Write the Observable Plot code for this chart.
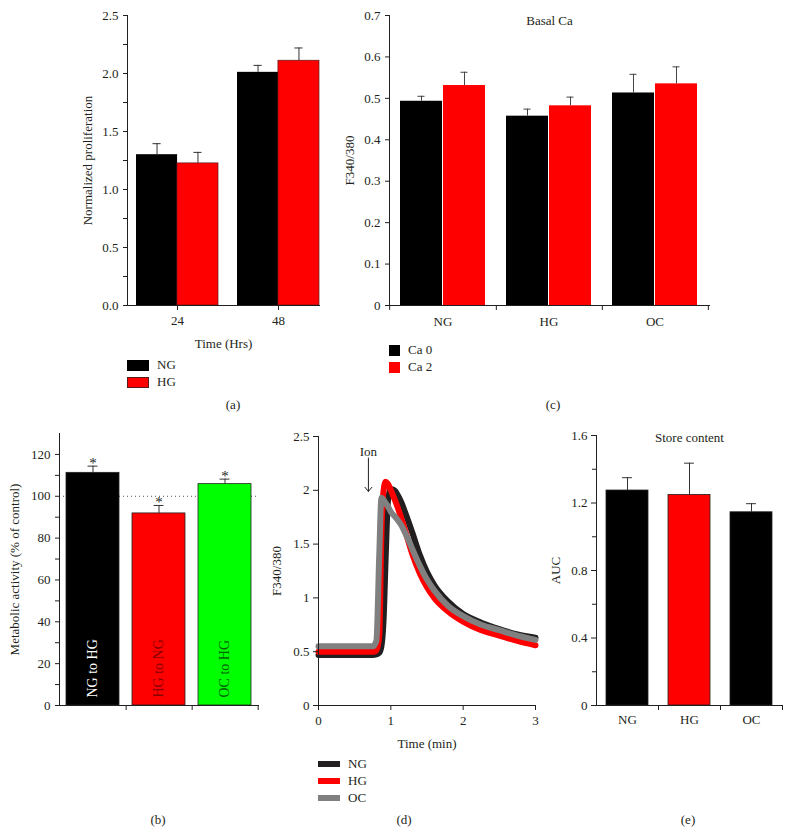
<!DOCTYPE html>
<html><head><meta charset="utf-8">
<script src="https://cdn.jsdelivr.net/npm/d3@7"></script>
<script src="https://cdn.jsdelivr.net/npm/@observablehq/plot@0.6"></script>
<style>
body{margin:0;background:#fff;}
#root{position:relative;width:790px;height:835px;font-family:"Liberation Serif","Times New Roman",serif;color:#231f20;font-size:13px;overflow:hidden;}
.lbl{position:absolute;transform:translate(-50%,-50%);white-space:nowrap;}
.txt{position:absolute;transform:translateY(-50%);white-space:nowrap;}
.sw{position:absolute;box-sizing:border-box;}
</style></head><body><div id="root"></div>
<script>
// ---------- data ----------
// (a) proliferation
const timeGroups = ["24", "48"];
const prolifNG = [1.30, 2.01];
const prolifNGErr = [0.095, 0.06];
const prolifHG = [1.225, 2.11];
const prolifHGErr = [0.095, 0.11];
const prolifTicks = [0, 0.5, 1, 1.5, 2, 2.5];
const prolifMinor = [0.25, 0.75, 1.25, 1.75, 2.25];

// (b) metabolic activity
const metabCats = ["NG to HG", "HG to NG", "OC to HG"];
const metabValues = [111.2, 91.8, 105.8];
const metabErr = [3.2, 3.8, 2.4];
const metabColors = ["#000000", "#ff0000", "#00ff00"];
const metabTextColors = ["#ffffff", "#8b0000", "#006400"];
const controlLevel = [100];
const metabTicks = [0, 20, 40, 60, 80, 100, 120];
const metabMinor = [10, 30, 50, 70, 90, 110];

// (c) basal Ca
const basalCats = ["NG", "HG", "OC"];
const basalCa0 = [0.493, 0.457, 0.513];
const basalCa0Err = [0.012, 0.017, 0.045];
const basalCa2 = [0.531, 0.482, 0.535];
const basalCa2Err = [0.032, 0.021, 0.041];
const basalTicks = [0, 0.1, 0.2, 0.3, 0.4, 0.5, 0.6, 0.7];

// (d) Ca traces
const traceTime = [0, 0.5, 0.75, 0.8, 0.84, 0.87, 0.9, 0.93, 0.96, 1.0, 1.05, 1.1, 1.15, 1.2, 1.3, 1.4, 1.5, 1.6, 1.8, 2.0, 2.25, 2.5, 2.75, 3.0];
const traceNG = [0.47, 0.47, 0.47, 0.475, 0.49, 0.55, 0.80, 1.40, 1.90, 2.01, 2.00, 1.95, 1.88, 1.79, 1.60, 1.40, 1.24, 1.12, 0.96, 0.85, 0.77, 0.71, 0.66, 0.63];
const traceHG = [0.50, 0.50, 0.50, 0.51, 0.65, 1.60, 2.00, 2.08, 2.06, 2.00, 1.92, 1.83, 1.73, 1.62, 1.40, 1.23, 1.10, 1.00, 0.87, 0.78, 0.70, 0.65, 0.60, 0.56];
const traceOC = [0.55, 0.55, 0.55, 0.60, 1.40, 1.93, 1.91, 1.88, 1.85, 1.80, 1.76, 1.72, 1.67, 1.60, 1.45, 1.30, 1.17, 1.07, 0.92, 0.83, 0.75, 0.70, 0.65, 0.61];
const traceTimeTicks = [0, 1, 2, 3];
const traceRatioTicks = [0, 0.5, 1, 1.5, 2, 2.5];
const ionMark = [{time: 0.69, label: 2.36, from: 2.30, to: 1.99}];

// (e) store content
const storeCats = ["NG", "HG", "OC"];
const storeAUC = [1.274, 1.248, 1.145];
const storeErr = [0.076, 0.188, 0.051];
const storeColors = ["#000000", "#ff0000", "#000000"];
const storeTicks = [0, 0.4, 0.8, 1.2, 1.6];
const storeMinor = [0.2, 0.6, 1.0, 1.4];

// ---------- helpers ----------
const FONT = '"Liberation Serif", "Times New Roman", serif';
const INK = "#231f20";
const root = document.getElementById("root");
function place(el, left, top) { el.style.position = "absolute"; el.style.left = left + "px"; el.style.top = top + "px"; root.appendChild(el); }
function style() { return {fontFamily: FONT, fontSize: "13px", color: INK, background: "none", overflow: "visible"}; }
function label(text, x, y, cls = "lbl") { const d = document.createElement("div"); d.className = cls; d.textContent = text; d.style.left = x + "px"; d.style.top = y + "px"; root.appendChild(d); }
function swatch(x, cy, w, h, color, border) { const d = document.createElement("div"); d.className = "sw"; d.style.left = x + "px"; d.style.top = (cy - h / 2) + "px"; d.style.width = w + "px"; d.style.height = h + "px"; d.style.background = color; if (border) d.style.border = "1px solid " + border; root.appendChild(d); }
const fmtPlain = d => String(d);

// ---------- (a) ----------
{
  const W = 340, H = 350, mL = 127, mR = 21, mT = 15, mB = 45, pi = 0.19, po = 0.045;
  const step = (W - mL - mR) / (timeGroups.length - pi + 2 * po), bw = step * (1 - pi), half = bw / 2, cap = 4;
  const ng = timeGroups.map((g, i) => ({g, v: prolifNG[i], e: prolifNGErr[i]}));
  const hg = timeGroups.map((g, i) => ({g, v: prolifHG[i], e: prolifHGErr[i]}));
  const svg = Plot.plot({
    width: W, height: H, marginLeft: mL, marginRight: mR, marginTop: mT, marginBottom: mB, style: style(),
    x: {type: "band", domain: timeGroups, paddingInner: pi, paddingOuter: po, align: 1},
    y: {domain: [0, 2.5]},
    marks: [
      Plot.barY(ng, {x: "g", y: "v", fill: "#000", insetRight: half}),
      Plot.barY(hg, {x: "g", y: "v", fill: "#ff0000", stroke: "#5a1a1a", strokeWidth: 0.7, insetLeft: half}),
      Plot.ruleX(ng, {x: "g", y1: "v", y2: d => d.v + d.e, dx: -half / 2, stroke: "#333"}),
      Plot.ruleX(hg, {x: "g", y1: "v", y2: d => d.v + d.e, dx: half / 2, stroke: "#333"}),
      Plot.tickY(ng, {x: "g", y: d => d.v + d.e, insetLeft: bw * 0.25 - cap, insetRight: bw * 0.75 - cap, stroke: "#333"}),
      Plot.tickY(hg, {x: "g", y: d => d.v + d.e, insetLeft: bw * 0.75 - cap, insetRight: bw * 0.25 - cap, stroke: "#333"}),
      Plot.frame({anchor: "left", stroke: INK}),
      Plot.frame({anchor: "bottom", stroke: INK}),
      Plot.axisY(prolifTicks, {tickSize: 4, tickFormat: d3.format(".1f"), color: INK, label: "Normalized proliferation", labelAnchor: "center", labelOffset: 45, labelArrow: "none"}),
      Plot.axisY(prolifMinor, {tickSize: 4, tickFormat: () => "", color: INK, label: null}),
      Plot.axisX({tickSize: 5, tickPadding: 5, color: INK, label: "Time (Hrs)", labelAnchor: "center", labelOffset: 42, labelArrow: "none"})
    ]
  });
  place(svg, 0, 0);
  swatch(127, 365, 22, 11, "#000");
  label("NG", 157, 365, "txt");
  swatch(127, 382, 22, 11, "#ff0000", "#5a1a1a");
  label("HG", 157, 382, "txt");
  label("(a)", 233, 405);
}

// ---------- (c) ----------
{
  const W = 450, H = 350, mL = 49, mR = 81, mT = 15, mB = 45, pi = 0.194, po = 0.097;
  const step = (W - mL - mR) / (basalCats.length - pi + 2 * po), bw = step * (1 - pi), half = bw / 2, cap = 4;
  const c0 = basalCats.map((g, i) => ({g, v: basalCa0[i], e: basalCa0Err[i]}));
  const c2 = basalCats.map((g, i) => ({g, v: basalCa2[i], e: basalCa2Err[i]}));
  const svg = Plot.plot({
    width: W, height: H, marginLeft: mL, marginRight: mR, marginTop: mT, marginBottom: mB, style: style(),
    x: {type: "band", domain: basalCats, paddingInner: pi, paddingOuter: po},
    y: {domain: [0, 0.7]},
    marks: [
      Plot.barY(c0, {x: "g", y: "v", fill: "#000", insetRight: half}),
      Plot.barY(c2, {x: "g", y: "v", fill: "#ff0000", insetLeft: half}),
      Plot.ruleX(c0, {x: "g", y1: "v", y2: d => d.v + d.e, dx: -half / 2, stroke: "#444"}),
      Plot.ruleX(c2, {x: "g", y1: "v", y2: d => d.v + d.e, dx: half / 2, stroke: "#444"}),
      Plot.tickY(c0, {x: "g", y: d => d.v + d.e, insetLeft: bw * 0.25 - cap, insetRight: bw * 0.75 - cap, stroke: "#444"}),
      Plot.tickY(c2, {x: "g", y: d => d.v + d.e, insetLeft: bw * 0.75 - cap, insetRight: bw * 0.25 - cap, stroke: "#444"}),
      Plot.frame({anchor: "left", stroke: INK}),
      Plot.frame({anchor: "bottom", stroke: INK}),
      Plot.ruleX(basalCats, {x: d => d, y1: 0, y2: 0, dx: step / 2, insetBottom: -5, stroke: INK}),
      Plot.ruleX(basalCats.slice(0, 1), {x: d => d, y1: 0, y2: 0, dx: -step / 2, insetBottom: -5, stroke: INK}),
      Plot.axisY(basalTicks, {tickSize: 4, tickFormat: fmtPlain, color: INK, label: "F340/380", labelAnchor: "center", labelOffset: 45, labelArrow: "none"}),
      Plot.axisX({tickSize: 0, tickPadding: 11, color: INK, label: null}),
      Plot.text(["Basal Ca"], {frameAnchor: "top", fill: INK})
    ]
  });
  place(svg, 340, 0);
  swatch(389, 350, 11, 11, "#000");
  label("Ca 0", 408, 350, "txt");
  swatch(389, 367, 11, 11, "#ff0000");
  label("Ca 2", 408, 367, "txt");
  label("(c)", 553, 405);
}

// ---------- (b) ----------
{
  const W = 270, H = 330, mL = 59, mR = 12, mT = 13, mB = 45, pi = 0.2, po = 0.1;
  const step = (W - mL - mR) / (metabCats.length - pi + 2 * po), bw = step * (1 - pi), cap = 5;
  const data = metabCats.map((c, i) => ({c, v: metabValues[i], e: metabErr[i], fill: metabColors[i], tc: metabTextColors[i]}));
  const svg = Plot.plot({
    width: W, height: H, marginLeft: mL, marginRight: mR, marginTop: mT, marginBottom: mB, style: style(),
    x: {type: "band", domain: metabCats, paddingInner: pi, paddingOuter: po, axis: null},
    y: {domain: [0, 130], axis: null},
    color: {type: "identity"},
    marks: [
      Plot.ruleY(controlLevel, {stroke: "#555", strokeDasharray: "1,3"}),
      Plot.barY(data, {x: "c", y: "v", fill: "fill", stroke: "#222", strokeWidth: 0.8}),
      Plot.ruleX(data, {x: "c", y1: "v", y2: d => d.v + d.e, stroke: "#333"}),
      Plot.tickY(data, {x: "c", y: d => d.v + d.e, insetLeft: bw / 2 - cap, insetRight: bw / 2 - cap, stroke: "#333"}),
      Plot.text(data, {x: "c", y: d => d.v + d.e, text: () => "*", dy: 2, lineAnchor: "bottom", fontSize: 15, fill: INK}),
      Plot.text(data, {x: "c", y: 0, text: "c", rotate: -90, textAnchor: "start", dy: -8, fill: "tc", fontSize: 14}),
      Plot.frame({anchor: "left", stroke: INK}),
      Plot.frame({anchor: "bottom", stroke: INK}),
      Plot.ruleX(metabCats, {x: d => d, y1: 0, y2: 0, dx: step / 2, insetBottom: -5, stroke: INK}),
      Plot.axisY(metabTicks, {tickSize: 4, tickFormat: fmtPlain, color: INK, label: "Metabolic activity (% of control)", labelAnchor: "center", labelOffset: 50, labelArrow: "none"}),
      Plot.axisY(metabMinor, {tickSize: 4, tickFormat: () => "", color: INK, label: null})
    ]
  });
  place(svg, 0, 420);
  label("(b)", 158, 820);
}

// ---------- (d) ----------
{
  const W = 280, H = 330, mL = 48, mR = 15, mT = 16, mB = 45;
  const mk = arr => traceTime.map((t, i) => ({t, v: arr[i]}));
  const svg = Plot.plot({
    width: W, height: H, marginLeft: mL, marginRight: mR, marginTop: mT, marginBottom: mB, style: style(),
    x: {domain: [0, 3]},
    y: {domain: [0, 2.5]},
    marks: [
      Plot.line(mk(traceNG), {x: "t", y: "v", stroke: "#231f20", strokeWidth: 6, curve: "monotone-x"}),
      Plot.line(mk(traceHG), {x: "t", y: "v", stroke: "#ff0000", strokeWidth: 6, curve: "monotone-x"}),
      Plot.line(mk(traceOC), {x: "t", y: "v", stroke: "#808080", strokeWidth: 6, curve: "monotone-x"}),
      Plot.text(ionMark, {x: "time", y: "label", text: () => "Ion", fill: INK}),
      Plot.arrow(ionMark, {x1: "time", x2: "time", y1: "from", y2: "to", stroke: INK, strokeWidth: 1, headLength: 8, headAngle: 80}),
      Plot.frame({anchor: "left", stroke: INK}),
      Plot.frame({anchor: "bottom", stroke: INK}),
      Plot.axisY(traceRatioTicks, {tickSize: 5, tickFormat: fmtPlain, color: INK, label: "F340/380", labelAnchor: "center", labelOffset: 47, labelArrow: "none"}),
      Plot.axisX(traceTimeTicks, {tickSize: 5, tickPadding: 5, tickFormat: fmtPlain, color: INK, label: "Time (min)", labelAnchor: "center", labelOffset: 42, labelArrow: "none"})
    ]
  });
  place(svg, 270, 420);
  swatch(318, 764, 22, 6, "#231f20");
  label("NG", 348, 764, "txt");
  swatch(318, 781, 22, 6, "#ff0000");
  label("HG", 348, 781, "txt");
  swatch(318, 798, 22, 6, "#808080");
  label("OC", 348, 798, "txt");
  label("(d)", 404, 820);
}

// ---------- (e) ----------
{
  const W = 245, H = 330, mL = 51, mR = 8, mT = 15, mB = 45, pi = 0.32, po = 0.16;
  const step = (W - mL - mR) / (storeCats.length - pi + 2 * po), bw = step * (1 - pi), cap = 5;
  const data = storeCats.map((c, i) => ({c, v: storeAUC[i], e: storeErr[i], fill: storeColors[i]}));
  const svg = Plot.plot({
    width: W, height: H, marginLeft: mL, marginRight: mR, marginTop: mT, marginBottom: mB, style: style(),
    x: {type: "band", domain: storeCats, paddingInner: pi, paddingOuter: po},
    y: {domain: [0, 1.6]},
    color: {type: "identity"},
    marks: [
      Plot.barY(data, {x: "c", y: "v", fill: "fill", stroke: "#222", strokeWidth: 0.8}),
      Plot.ruleX(data, {x: "c", y1: "v", y2: d => d.v + d.e, stroke: "#333"}),
      Plot.tickY(data, {x: "c", y: d => d.v + d.e, insetLeft: bw / 2 - cap, insetRight: bw / 2 - cap, stroke: "#333"}),
      Plot.frame({anchor: "left", stroke: INK}),
      Plot.frame({anchor: "bottom", stroke: INK}),
      Plot.ruleX(storeCats, {x: d => d, y1: 0, y2: 0, dx: step / 2, insetBottom: -5, stroke: INK}),
      Plot.axisY(storeTicks, {tickSize: 5, tickFormat: fmtPlain, color: INK, label: "AUC", labelAnchor: "center", labelOffset: 46, labelArrow: "none"}),
      Plot.axisY(storeMinor, {tickSize: 4, tickFormat: () => "", color: INK, label: null}),
      Plot.axisX({tickSize: 0, tickPadding: 9, color: INK, label: null}),
      Plot.text(["Store content"], {frameAnchor: "top", dy: -3, fill: INK})
    ]
  });
  place(svg, 545, 420);
  label("(e)", 688, 820);
}
</script></body></html>
